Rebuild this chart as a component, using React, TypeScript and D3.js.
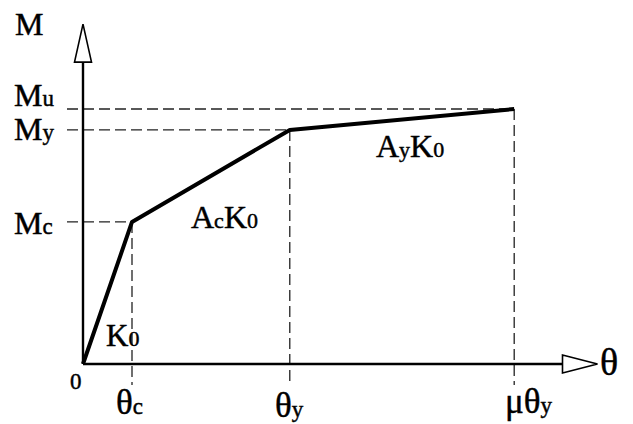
import React from "react";
import * as d3 from "d3";

// Trilinear moment–rotation skeleton (normalised units)
const thetaKeys = ["0", "θc", "θy", "μθy"];
const thetaValues = [0, 1, 4.22, 8.8];
const momentKeys = ["0", "Mc", "My", "Mu"];
const momentValues = [0, 0.557, 0.918, 1.0];

const thetaAxisMax = 10.5;
const momentAxisMax = 1.333;

const W = 633;
const H = 424;

const x = d3.scaleLinear().domain([0, 1]).range([83, 132]);
const y = d3.scaleLinear().domain([0, 1]).range([364, 109]);

const points: [number, number][] = thetaValues.map((t, i) => [t, momentValues[i]]);

const FONT = "'Liberation Serif', 'Times New Roman', serif";

function Sub({ main, sub, size = 32, subSize = 23, dy = 0 }: { main: string; sub: string; size?: number; subSize?: number; dy?: number }) {
  return (
    <>
      <tspan fontSize={size}>{main}</tspan>
      <tspan fontSize={subSize} dy={dy}>{sub}</tspan>
    </>
  );
}

export default function App() {
  const line = d3
    .line<[number, number]>()
    .x((d) => x(d[0]))
    .y((d) => y(d[1]));

  const x0 = x(0);
  const y0 = y(0);
  const xEnd = x(thetaAxisMax);
  const yEnd = y(momentAxisMax);

  const dash = "11,5";
  const ink = { fill: "#000", stroke: "#000", strokeWidth: 0.45 };

  return (
    <svg width={W} height={H} style={{ position: "absolute", left: 0, top: 0, background: "#fff" }} fontFamily={FONT}>
      <rect width={W} height={H} fill="#fff" />

      {/* guide lines */}
      {points.slice(1).map(([t, m], i) => (
        <g key={i} stroke="#222" strokeWidth={1.3} strokeDasharray={dash} fill="none">
          <line x1={x0 - 16} x2={x(t)} y1={y(m)} y2={y(m)} />
          <line x1={x(t)} x2={x(t)} y1={y(m)} y2={y0 + 21} />
        </g>
      ))}

      {/* axes */}
      <line x1={x0} x2={xEnd - 35} y1={y0} y2={y0} stroke="#000" strokeWidth={2.4} />
      <line x1={x0} x2={x0} y1={y0} y2={yEnd + 38} stroke="#000" strokeWidth={2.4} />
      <path
        d={`M${xEnd - 35},${y0 - 9} L${xEnd},${y0} L${xEnd - 35},${y0 + 9} Z`}
        fill="#fff"
        stroke="#000"
        strokeWidth={1.6}
      />
      <path
        d={`M${x0 - 8.5},${yEnd + 38} L${x0},${yEnd} L${x0 + 8.5},${yEnd + 38} Z`}
        fill="#fff"
        stroke="#000"
        strokeWidth={1.6}
      />

      {/* skeleton curve */}
      <path d={line(points) || ""} fill="none" stroke="#000" strokeWidth={4} strokeLinejoin="round" />

      {/* axis titles */}
      <text x={15} y={35} fontSize={32} {...ink}>M</text>
      <text x={600} y={375} fontSize={38} {...ink}>θ</text>

      {/* moment labels */}
      <text x={14} y={106} {...ink}><Sub main="M" sub="u" /></text>
      <text x={14} y={140} {...ink}><Sub main="M" sub="y" /></text>
      <text x={14} y={234} {...ink}><Sub main="M" sub="c" /></text>

      {/* rotation labels */}
      <text x={70} y={389} fontSize={23} {...ink}>0</text>
      <text x={116} y={414} {...ink}><Sub main="θ" sub="c" size={35} /></text>
      <text x={275} y={417} {...ink}><Sub main="θ" sub="y" size={35} /></text>
      <text x={505} y={413} {...ink}><Sub main="μθ" sub="y" size={35} /></text>

      {/* stiffness labels */}
      <text x={106} y={346} {...ink}><Sub main="K" sub="0" size={31} subSize={22} /></text>
      <text x={191} y={228} {...ink}>
        <tspan fontSize={32}>A</tspan>
        <tspan fontSize={22}>c</tspan>
        <tspan fontSize={32}>K</tspan>
        <tspan fontSize={22}>0</tspan>
      </text>
      <text x={376} y={157} {...ink}>
        <tspan fontSize={32}>A</tspan>
        <tspan fontSize={22}>y</tspan>
        <tspan fontSize={32}>K</tspan>
        <tspan fontSize={22}>0</tspan>
      </text>
    </svg>
  );
}
